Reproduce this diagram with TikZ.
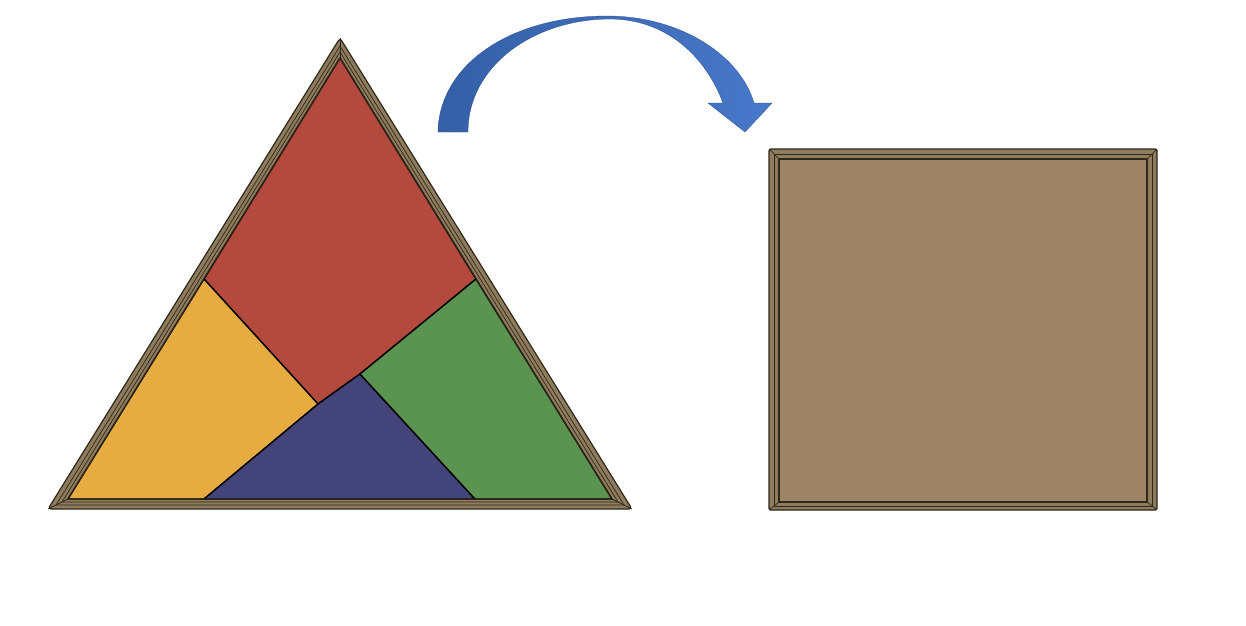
\documentclass[tikz,border=0pt]{standalone}
\usetikzlibrary{calc}
\definecolor{pred}{HTML}{B44A3E}
\definecolor{pyel}{HTML}{E6AC42}
\definecolor{pblu}{HTML}{43447A}
\definecolor{pgrn}{HTML}{5A9450}
\definecolor{frame}{HTML}{8E7C5C}
\definecolor{sqfill}{HTML}{9C8464}
\definecolor{edge}{HTML}{2E271B}
\definecolor{arrL}{HTML}{3560A8}
\definecolor{arrR}{HTML}{4878CA}
\tikzset{
  piece/.style={draw=black, line width=1.4pt, line join=round},
  framebody/.style={fill=frame, draw=edge, line width=1.2pt, line join=round},
  bevel/.style={draw=edge, line width=0.7pt, line join=round},
}
\begin{document}
\begin{tikzpicture}[x=1pt,y=-1pt]
\useasboundingbox (0,0) rectangle (1246,625);
% ---- curved arrow
\shade[left color=arrL, right color=arrR, draw=arrL!80!black, line width=0.3pt]
  (438,132) .. controls (439,65) and (510,16) .. (607,16)
  .. controls (680,16) and (740,55) .. (754,103)
  -- (772,103) -- (745,132) -- (708,103) -- (723,103)
  .. controls (705,55) and (665,19) .. (610,19)
  .. controls (535,19) and (468,65) .. (468,132) -- cycle;
% ---- triangle frame
\coordinate (A0) at (48,509); \coordinate (C0) at (340,38); \coordinate (B0) at (632,509);
\coordinate (A1) at (56,505); \coordinate (C1) at (340,46); \coordinate (B1) at (624,505);
\coordinate (A2) at (62,502); \coordinate (C2) at (340,52); \coordinate (B2) at (618,502);
\coordinate (A) at (68,499); \coordinate (C) at (340,58); \coordinate (B) at (612,499);
\path[framebody, rounded corners=3pt] (A0) -- (C0) -- (B0) -- cycle;
\draw[bevel] (A1) -- (C1) -- (B1) -- cycle;
\draw[bevel] (A2) -- (C2) -- (B2) -- cycle;
\draw[bevel] (A0) -- (A); \draw[bevel] (C0) -- (C); \draw[bevel] (B0) -- (B);
% ---- pieces
\coordinate (L) at (204,279); \coordinate (R) at (476,279);
\coordinate (J1) at (318,404); \coordinate (J2) at (360,374);
\coordinate (F) at (204,499); \coordinate (G) at (475,499);
\path[piece, fill=pred] (L) -- (C) -- (R) -- (J2) -- (J1) -- cycle;
\path[piece, fill=pyel] (A) -- (L) -- (J1) -- (F) -- cycle;
\path[piece, fill=pblu] (F) -- (J1) -- (J2) -- (G) -- cycle;
\path[piece, fill=pgrn] (G) -- (J2) -- (R) -- (B) -- cycle;
\draw[draw=edge, line width=1.2pt, line join=round] (A) -- (C) -- (B) -- cycle;
% ---- square tray
\coordinate (S0a) at (769,149); \coordinate (S0b) at (1157,510);
\coordinate (S1a) at (774,154); \coordinate (S1b) at (1152,506);
\coordinate (S2a) at (779,159); \coordinate (S2b) at (1147,502);
\path[framebody, rounded corners=1.5pt] (S0a) rectangle (S0b);
\draw[bevel] (S1a) rectangle (S1b);
\path[fill=sqfill] (S2a) rectangle (S2b);
\draw[draw=edge, line width=1.1pt] (S2a) rectangle (S2b);
\draw[bevel] (S0a) -- (S2a);
\draw[bevel] (1157,149) -- (1147,159);
\draw[bevel] (769,510) -- (779,502);
\draw[bevel] (S0b) -- (S2b);
\end{tikzpicture}
\end{document}
